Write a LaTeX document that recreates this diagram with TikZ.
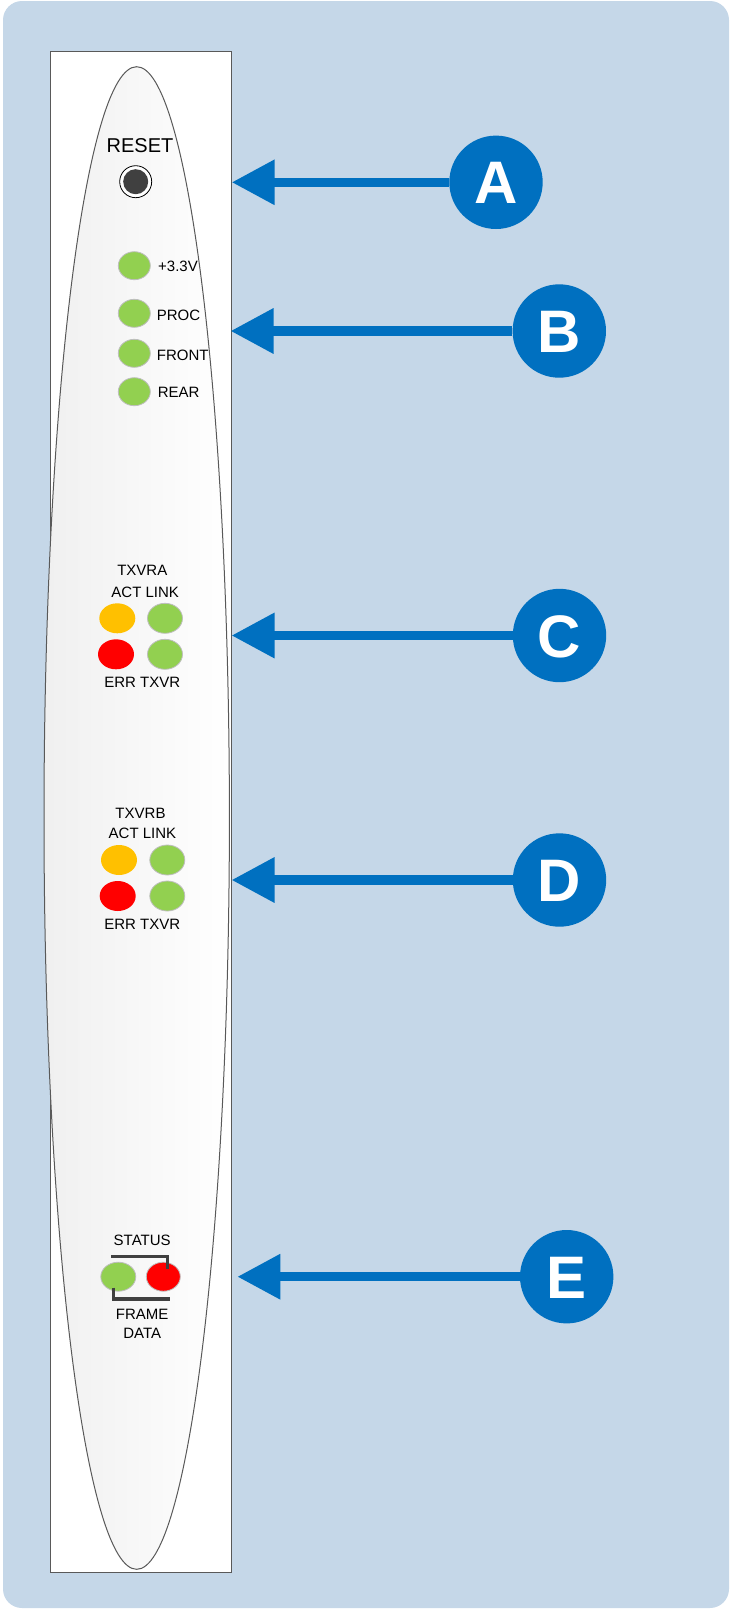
\documentclass[tikz,border=0pt]{standalone}
\usepackage{fontspec}
\setmainfont{Liberation Sans}
\usetikzlibrary{shapes.geometric,arrows.meta}
\definecolor{bgblue}{RGB}{197,215,232}
\definecolor{mainblue}{RGB}{0,112,192}
\definecolor{ledgreen}{RGB}{146,208,80}
\definecolor{ledorange}{RGB}{255,192,0}
\definecolor{ledred}{RGB}{255,0,0}
\definecolor{ledline}{RGB}{190,190,190}
\definecolor{edgegray}{RGB}{89,89,89}
\definecolor{darkbtn}{RGB}{64,64,64}
\begin{document}
\begin{tikzpicture}[x=1pt,y=-1pt,
  lbl/.style={inner sep=0pt, text height=10.74pt, text depth=0pt, font=\fontsize{15}{18}\selectfont},
  bigl/.style={inner sep=0pt, text height=14.3pt, text depth=0pt, font=\fontsize{20}{24}\selectfont},
  led/.style={ellipse, inner sep=0pt, line width=0.8pt},
  gled/.style={led, fill=ledgreen, draw=ledline},
  oled/.style={led, fill=ledorange},
  rled/.style={led, fill=ledred},
  badge/.style={circle, fill=mainblue, minimum size=93.4pt, inner sep=0pt, text=white,
    text height=43pt, text depth=0pt, font=\fontsize{60}{70}\selectfont\bfseries},
  arrowline/.style={draw=mainblue, line width=9.5pt, -{Triangle[length=43pt,width=43pt]}},
  bracket/.style={draw=darkbtn, line width=3.3pt}
]
\useasboundingbox (0,0) rectangle (730,1609);
\fill[bgblue, rounded corners=19pt] (3,1) rectangle (729,1608);
% panel
\draw[fill=white, draw=edgegray, line width=1.2pt] (50.7,51.7) rectangle (231.7,1572.7);
\draw[edgegray, line width=1pt, left color=black!6, right color=white] (136.7,818) ellipse [x radius=92.7pt, y radius=751.3pt];
% reset
\node[bigl] (reset) at (140,145.7) {RESET};
\node[circle, draw=black, fill=white, line width=0.8pt, minimum size=32pt, inner sep=0pt] (rbtn) at (135.7,181.7) {};
\node[circle, fill=darkbtn, minimum size=25pt, inner sep=0pt] (rbtnin) at (rbtn.center) {};
% B leds
\node[gled, minimum width=32pt, minimum height=28pt] (l33) at (134.3,265.7) {};
\node[gled, minimum width=32pt, minimum height=28pt] (lproc) at (134.3,313.3) {};
\node[gled, minimum width=32pt, minimum height=28pt] (lfront) at (134.3,353.3) {};
\node[gled, minimum width=32pt, minimum height=28pt] (lrear) at (134.3,391.7) {};
\node[lbl, anchor=west] (t33) at (158,266.2) {+3.3V};
\node[lbl, anchor=west] (tproc) at (156.7,315) {PROC};
\node[lbl, anchor=west] (tfront) at (156.7,355.5) {FRONT};
\node[lbl, anchor=west] (trear) at (157.7,391.7) {REAR};
% C
\node[lbl] (txa) at (142.3,570) {TXVRA};
\node[lbl] (acta) at (145.2,591.7) {ACT LINK};
\node[oled, minimum width=36pt, minimum height=30pt] (ca1) at (117.3,618.3) {};
\node[gled, minimum width=35pt, minimum height=30pt] (ca2) at (165,618.3) {};
\node[rled, minimum width=36pt, minimum height=30pt] (ca3) at (116,654.3) {};
\node[gled, minimum width=35pt, minimum height=30pt] (ca4) at (165,654.3) {};
\node[lbl] (erra) at (142.2,681.7) {ERR TXVR};
% D
\node[lbl] (txb) at (140.5,812.7) {TXVRB};
\node[lbl] (actb) at (142.5,833.3) {ACT LINK};
\node[oled, minimum width=36pt, minimum height=30pt] (cb1) at (119,860) {};
\node[gled, minimum width=35pt, minimum height=30pt] (cb2) at (167.3,860) {};
\node[rled, minimum width=36pt, minimum height=30pt] (cb3) at (117.7,896) {};
\node[gled, minimum width=35pt, minimum height=30pt] (cb4) at (167.3,896) {};
\node[lbl] (errb) at (142.2,924.3) {ERR TXVR};
% E
\node[lbl] (stat) at (142.2,1240) {STATUS};
\node[gled, minimum width=35pt, minimum height=29pt] (se1) at (118.3,1276.7) {};
\node[rled, minimum width=34pt, minimum height=29pt, draw=ledline] (se2) at (163.3,1276.7) {};
\draw[bracket] (111,1256.7) -- (167.3,1256.7) -- (167.3,1269.3);
\draw[bracket] (113.3,1287.7) -- (113.3,1299) -- (170,1299);
\node[lbl] (frame) at (142.2,1314.3) {FRAME};
\node[lbl] (data) at (142.2,1333.3) {DATA};
% arrows
\node[badge] (cA) at (496,182.3) {A};
\node[badge] (cB) at (559.3,331) {B};
\node[badge] (cC) at (559.5,635.5) {C};
\node[badge] (cD) at (559.5,880) {D};
\node[badge] (cE) at (566.7,1276.7) {E};
\coordinate (tA) at (231.7,182.3);
\coordinate (tB) at (230.5,331);
\coordinate (tC) at (231.5,635.5);
\coordinate (tD) at (231.5,880);
\coordinate (tE) at (237.3,1276.7);
\draw[arrowline] (cA) -- (tA);
\draw[arrowline] (cB) -- (tB);
\draw[arrowline] (cC) -- (tC);
\draw[arrowline] (cD) -- (tD);
\draw[arrowline] (cE) -- (tE);
\end{tikzpicture}
\end{document}
